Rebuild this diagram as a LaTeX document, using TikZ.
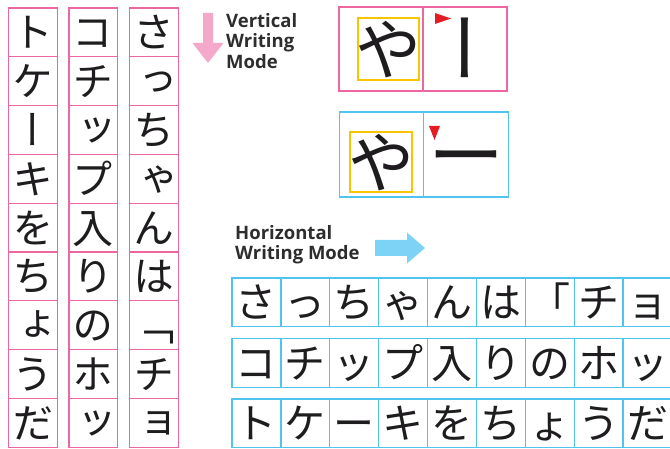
\documentclass[tikz,border=0pt]{standalone}
\usepackage{fontspec}
\setmainfont{Open Sans}
\newfontfamily\jp{Noto Sans CJK JP}
\newfontfamily\jpv[RawFeature=+vert]{Noto Sans CJK JP}
\definecolor{vpink}{RGB}{236,102,162}
\definecolor{apink}{RGB}{244,168,202}
\definecolor{hblue}{RGB}{78,196,238}
\definecolor{ablue}{RGB}{125,211,245}
\definecolor{ybox}{RGB}{250,196,0}
\definecolor{rtri}{RGB}{228,28,36}
\definecolor{lbltext}{RGB}{45,45,45}
\definecolor{ink}{RGB}{30,28,30}
\tikzset{
  vcell/.style={draw=vpink, line width=1.3pt, minimum width=48.8pt, minimum height=48.8pt, inner sep=0pt},
  hcell/.style={draw=hblue, line width=1.3pt, minimum width=48.8pt, minimum height=48.8pt, inner sep=0pt},
  pcell/.style={draw=vpink, line width=1.3pt, minimum width=84pt, minimum height=84pt, inner sep=0pt},
  bcell/.style={draw=hblue, line width=1.3pt, minimum width=84.5pt, minimum height=85pt, inner sep=0pt},
  yframe/.style={draw=ybox, line width=1.3pt, inner sep=0pt},
  jglyph/.style={anchor=base, inner sep=0pt, outer sep=0pt, text=ink, font=\fontsize{41}{41}\selectfont},
  bigglyph/.style={anchor=base, inner sep=0pt, outer sep=0pt, text=ink, font=\fontsize{66}{66}\selectfont},
  barglyph/.style={anchor=base, inner sep=0pt, outer sep=0pt, text=ink, font=\fontsize{76}{76}\selectfont},
  lbl/.style={anchor=base west, inner sep=0pt, text=lbltext, font=\fontsize{18.5}{20.5}\selectfont\bfseries}
}
\begin{document}
\begin{tikzpicture}[x=1pt,y=-1pt]
\useasboundingbox (0,0) rectangle (670,449);
% vertical columns
\foreach \x/\list [count=\c] in {8.5/{ト,ケ,ー,キ,を,ち,ょ,う,だ}, 69/{コ,チ,ッ,プ,入,り,の,ホ,ッ}, 129.5/{さ,っ,ち,ゃ,ん,は,「,チ,ョ}}{
  \foreach \ch [count=\r from 0] in \list {
    \node[vcell] (vc\c-\r) at ({\x+24.4},{8+\r*48.8+24.4}) {};
    \node[jglyph] (vg\c-\r) at ({\x+24.4},{8+\r*48.8+24.4+0.38*41}) {\jpv\ch};
  }
}
% horizontal rows
\foreach \y/\list [count=\c] in {278/{さ,っ,ち,ゃ,ん,は,「,チ,ョ}, 338.5/{コ,チ,ッ,プ,入,り,の,ホ,ッ}, 399/{ト,ケ,ー,キ,を,ち,ょ,う,だ}}{
  \foreach \ch [count=\r from 0] in \list {
    \node[hcell] (hc\c-\r) at ({232+\r*48.9+24.4},{\y+24.4}) {};
    \node[jglyph] (hg\c-\r) at ({232+\r*48.9+24.4},{\y+24.4+0.38*41}) {\jp\ch};
  }
}
% arrows
\fill[apink] (203,13) -- (213,13) -- (213,43) -- (223.5,43) -- (208,63) -- (192.5,43) -- (203,43) -- cycle;
\fill[ablue] (375,240) -- (407,240) -- (407,232.5) -- (425,248) -- (407,263.5) -- (407,256) -- (375,256) -- cycle;
% labels
\node[lbl] (vl1) at (226,27.5) {Vertical};
\node[lbl] (vl2) at (226,48) {Writing};
\node[lbl] (vl3) at (226,68.5) {Mode};
\node[lbl] (hl1) at (235,240) {Horizontal};
\node[lbl] (hl2) at (235,260) {Writing Mode};
% vertical example pair
\node[pcell] (p1) at (381,49) {};
\node[pcell] (p2) at (465,49) {};
\node[yframe, minimum width=61pt, minimum height=62pt] (py) at (388.5,49) {};
\node[bigglyph] (pg1) at (388.5,{49+0.38*66}) {\jp や};
\node[barglyph] (pg2) at (465,{49+0.38*76}) {\jpv ー};
\fill[rtri] (435,13) -- (451,18.5) -- (435,24) -- cycle;
% horizontal example pair
\node[bcell] (b1) at (381.5,154.5) {};
\node[bcell] (b2) at (466,154.5) {};
\node[yframe, minimum width=62pt, minimum height=60pt] (by) at (381,162) {};
\node[bigglyph] (bg1) at (381,{162+0.38*66}) {\jp や};
\node[barglyph] (bg2) at (466,{154.5+0.38*76}) {\jp ー};
\fill[rtri] (429,126) -- (440,126) -- (434.5,140) -- cycle;
\end{tikzpicture}
\end{document}
